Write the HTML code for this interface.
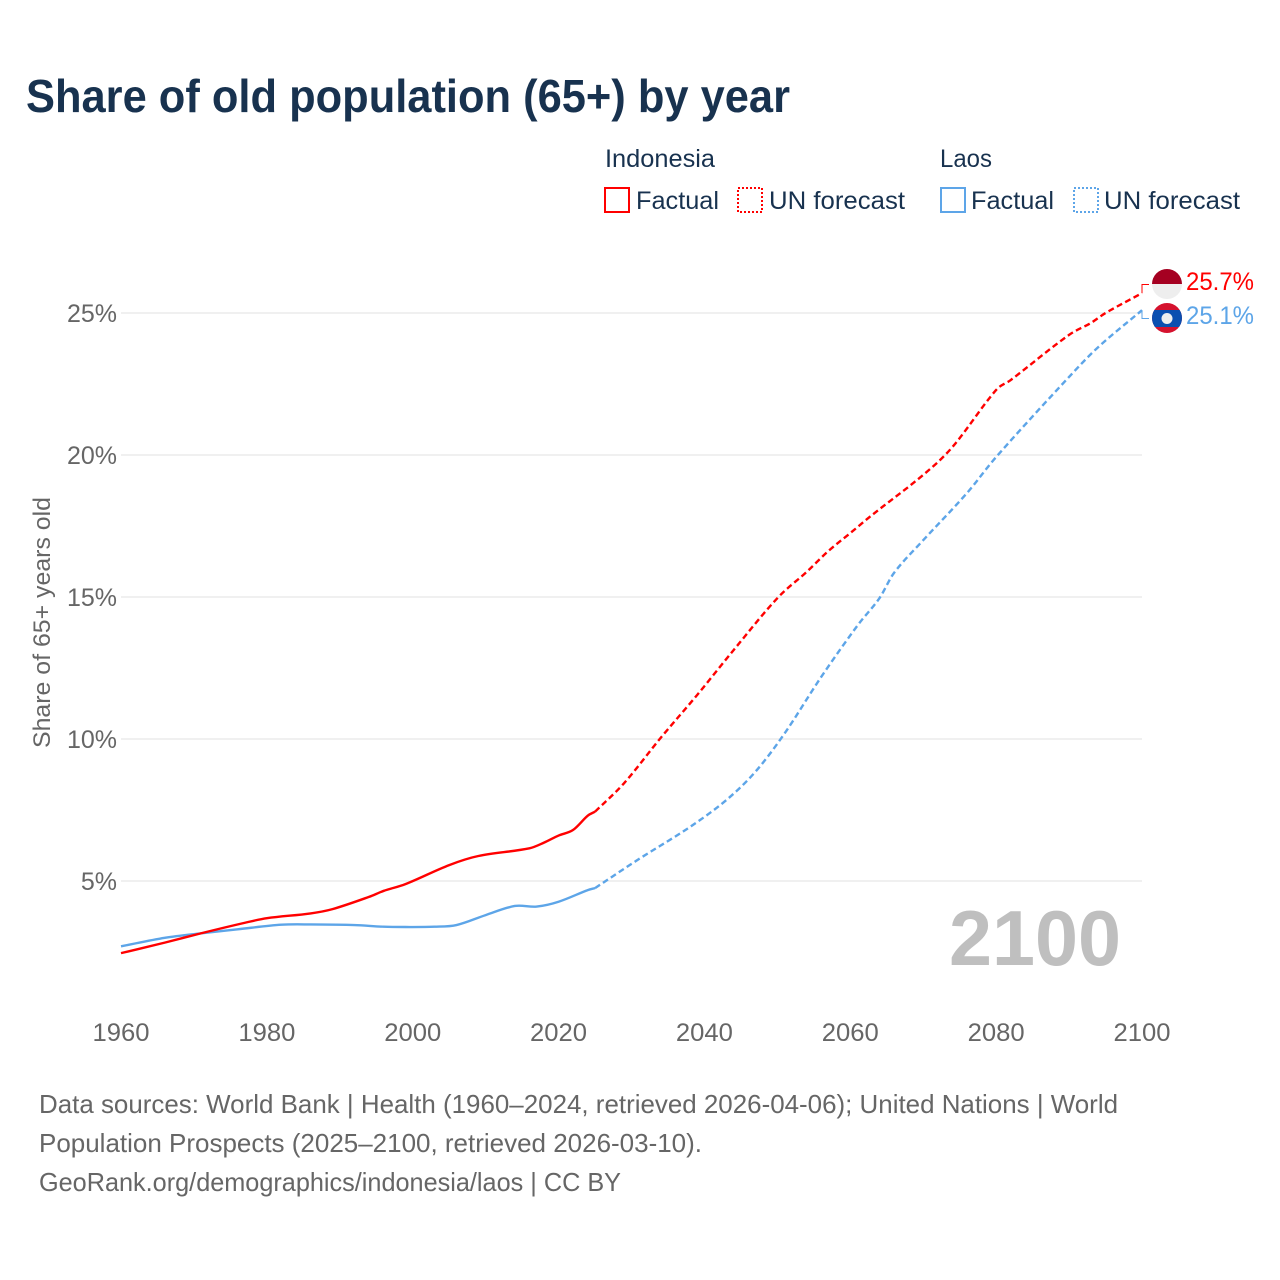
<!DOCTYPE html>
<html lang="en">
<head>
<meta charset="utf-8">
<title>Share of old population (65+) by year</title>
<style>
html,body{margin:0;padding:0;background:#fff;}
svg{display:block;}
text{font-family:"Liberation Sans",sans-serif;}
</style>
</head>
<body>
<svg id="chart" xmlns="http://www.w3.org/2000/svg" width="1280" height="1280" viewBox="0 0 1280 1280">
  <rect x="0" y="0" width="1280" height="1280" fill="#fff"/>
  <text x="26" y="112" font-size="46" font-weight="700" fill="#18324f" textLength="764" lengthAdjust="spacingAndGlyphs">Share of old population (65+) by year</text>

  <g font-size="25" fill="#18324f">
    <text x="605" y="167" textLength="110" lengthAdjust="spacingAndGlyphs">Indonesia</text>
    <rect x="605" y="188" width="24" height="24" fill="none" stroke="#ff0000" stroke-width="2"/>
    <text x="636" y="209" textLength="83" lengthAdjust="spacingAndGlyphs">Factual</text>
    <rect x="738" y="188" width="24" height="24" fill="none" stroke="#ff0000" stroke-width="2" stroke-dasharray="2 2"/>
    <text x="769" y="209" textLength="136" lengthAdjust="spacingAndGlyphs">UN forecast</text>
    <text x="940" y="167" textLength="52" lengthAdjust="spacingAndGlyphs">Laos</text>
    <rect x="941" y="188" width="24" height="24" fill="none" stroke="#5da5e8" stroke-width="2"/>
    <text x="971" y="209" textLength="83" lengthAdjust="spacingAndGlyphs">Factual</text>
    <rect x="1074" y="188" width="24" height="24" fill="none" stroke="#5da5e8" stroke-width="2" stroke-dasharray="2 2"/>
    <text x="1104" y="209" textLength="136" lengthAdjust="spacingAndGlyphs">UN forecast</text>
  </g>

  <g id="grid"></g>
  <g id="yticks" font-size="25" fill="#666"></g>
  <g id="xticks" font-size="25" fill="#666"></g>
  <text transform="translate(50,748) rotate(-90)" font-size="24" fill="#666" textLength="251" lengthAdjust="spacingAndGlyphs">Share of 65+ years old</text>

  <text x="949" y="965" font-size="78" font-weight="700" fill="#bfbfbf" textLength="172" lengthAdjust="spacingAndGlyphs">2100</text>

  <g id="series"></g>

  <g>
    <clipPath id="clip-id"><circle cx="1167" cy="284" r="15"/></clipPath>
    <g clip-path="url(#clip-id)">
      <rect x="1152" y="269" width="30" height="15" fill="#a50021"/>
      <rect x="1152" y="284" width="30" height="15" fill="#eeeeee"/>
    </g>
  </g>
  <g>
    <clipPath id="clip-la"><circle cx="1167" cy="318" r="15"/></clipPath>
    <g clip-path="url(#clip-la)">
      <rect x="1152" y="303" width="30" height="30" fill="#d5122e"/>
      <rect x="1152" y="310" width="30" height="17" fill="#0b4fb0"/>
      <circle cx="1167" cy="318.5" r="5.5" fill="#eeeeee"/>
    </g>
  </g>
  <text x="1186" y="290" font-size="25" fill="#ff0000" textLength="68" lengthAdjust="spacingAndGlyphs">25.7%</text>
  <text x="1186" y="324" font-size="25" fill="#5da5e8" textLength="68" lengthAdjust="spacingAndGlyphs">25.1%</text>

  <g font-size="26" fill="#666">
    <text x="39" y="1113" textLength="1079" lengthAdjust="spacingAndGlyphs">Data sources: World Bank | Health (1960–2024, retrieved 2026-04-06); United Nations | World</text>
    <text x="39" y="1152" textLength="663" lengthAdjust="spacingAndGlyphs">Population Prospects (2025–2100, retrieved 2026-03-10).</text>
    <text x="39" y="1191" textLength="582" lengthAdjust="spacingAndGlyphs">GeoRank.org/demographics/indonesia/laos | CC BY</text>
  </g>
</svg>
<script>
var xTickYears = [1960, 1980, 2000, 2020, 2040, 2060, 2080, 2100];
var yTickValues = [5, 10, 15, 20, 25];

var indonesiaFactualYears = [1960, 1966, 1971, 1977, 1980, 1986, 1989, 1994, 1996, 1999, 2005, 2009, 2016, 2018, 2020, 2022, 2024, 2025];
var indonesiaFactualValues = [2.46, 2.83, 3.16, 3.53, 3.69, 3.86, 4.01, 4.44, 4.65, 4.89, 5.56, 5.88, 6.15, 6.35, 6.6, 6.8, 7.3, 7.44];
var indonesiaForecastYears = [2025, 2029, 2034, 2039, 2044, 2050, 2054, 2057, 2060, 2063, 2070, 2074, 2080, 2082, 2090, 2093, 2095, 2100];
var indonesiaForecastValues = [7.44, 8.45, 10.04, 11.55, 13.13, 14.96, 15.88, 16.62, 17.25, 17.89, 19.3, 20.28, 22.29, 22.64, 24.23, 24.65, 25.0, 25.7];

var laosFactualYears = [1960, 1966, 1971, 1976, 1982, 1986, 1992, 1996, 1999, 2003, 2006, 2010, 2014, 2017, 2020, 2024, 2025];
var laosFactualValues = [2.7, 3.0, 3.16, 3.3, 3.46, 3.47, 3.45, 3.39, 3.38, 3.39, 3.45, 3.8, 4.12, 4.1, 4.27, 4.68, 4.75];
var laosForecastYears = [2025, 2031, 2038, 2043, 2047, 2051, 2056, 2061, 2064, 2066, 2070, 2076, 2080, 2090, 2094, 2100];
var laosForecastValues = [4.75, 5.77, 6.9, 7.85, 8.85, 10.2, 12.18, 14.0, 14.96, 15.85, 17.0, 18.66, 19.93, 22.75, 23.8, 25.1];

var NS = 'http://www.w3.org/2000/svg';
function xScale(year) { return 121 + (year - 1960) * (1021 / 140); }
function yScale(value) { return 881 - (value - 5) * 28.4; }
function linePath(years, values) {
  var pts = years.map(function (yr, i) { return [xScale(yr), yScale(values[i])]; });
  var d = 'M' + pts[0][0].toFixed(2) + ' ' + pts[0][1].toFixed(2);
  for (var i = 0; i < pts.length - 1; i++) {
    var p0 = pts[Math.max(i - 1, 0)], p1 = pts[i], p2 = pts[i + 1], p3 = pts[Math.min(i + 2, pts.length - 1)];
    var h = (p2[0] - p1[0]) / 3;
    var m1 = (p2[1] - p0[1]) / (p2[0] - p0[0]);
    var m2 = (p3[1] - p1[1]) / (p3[0] - p1[0]);
    d += ' C' + (p1[0] + h).toFixed(2) + ' ' + (p1[1] + m1 * h).toFixed(2) + ' ' +
         (p2[0] - h).toFixed(2) + ' ' + (p2[1] - m2 * h).toFixed(2) + ' ' +
         p2[0].toFixed(2) + ' ' + p2[1].toFixed(2);
  }
  return d;
}

var gridGroup = document.getElementById('grid');
var yTickGroup = document.getElementById('yticks');
var xTickGroup = document.getElementById('xticks');
var seriesGroup = document.getElementById('series');

yTickValues.forEach(function (v) {
  var line = document.createElementNS(NS, 'line');
  
  
  line.setAttribute('x1', xScale(1960));
  line.setAttribute('x2', xScale(2100));
  line.setAttribute('y1', yScale(v));
  line.setAttribute('y2', yScale(v));
  line.setAttribute('stroke', '#e8e8e8');
  line.setAttribute('stroke-width', '1.2');
  gridGroup.appendChild(line);

  var label = document.createElementNS(NS, 'text');
  
  
  label.setAttribute('x', 117);
  label.setAttribute('y', yScale(v) + 9);
  label.setAttribute('text-anchor', 'end');
  label.textContent = v + '%';
  yTickGroup.appendChild(label);
});

xTickYears.forEach(function (yr) {
  var label = document.createElementNS(NS, 'text');
  
  
  label.setAttribute('x', xScale(yr));
  label.setAttribute('y', 1041);
  label.setAttribute('text-anchor', 'middle');
  label.setAttribute('textLength', '57');
  label.setAttribute('lengthAdjust', 'spacingAndGlyphs');
  label.textContent = yr;
  xTickGroup.appendChild(label);
});

function addLine(name, years, values, color, dashed) {
  var path = document.createElementNS(NS, 'path');
  
  
  path.setAttribute('d', linePath(years, values));
  path.setAttribute('fill', 'none');
  path.setAttribute('stroke', color);
  path.setAttribute('stroke-width', '2.4');
  path.setAttribute('stroke-linejoin', 'round');
  if (dashed) path.setAttribute('stroke-dasharray', '6 3.5');
  seriesGroup.appendChild(path);
}

addLine('line-laos-factual', laosFactualYears, laosFactualValues, '#5da5e8', false);
addLine('line-laos-forecast', laosForecastYears, laosForecastValues, '#5da5e8', true);
addLine('line-indonesia-factual', indonesiaFactualYears, indonesiaFactualValues, '#ff0000', false);
addLine('line-indonesia-forecast', indonesiaForecastYears, indonesiaForecastValues, '#ff0000', true);

function addConnector(name, value, flagY, color) {
  var conn = document.createElementNS(NS, 'path');
  
  
  conn.setAttribute('d', 'M' + xScale(2100) + ' ' + yScale(value) + ' V' + flagY + ' H1149');
  conn.setAttribute('fill', 'none');
  conn.setAttribute('stroke', color);
  conn.setAttribute('stroke-width', '1');
  seriesGroup.appendChild(conn);
}
addConnector('connector-indonesia', indonesiaForecastValues[indonesiaForecastValues.length - 1], 284.5, '#ff0000');
addConnector('connector-laos', laosForecastValues[laosForecastValues.length - 1], 318.5, '#5da5e8');
</script>
</body>
</html>
